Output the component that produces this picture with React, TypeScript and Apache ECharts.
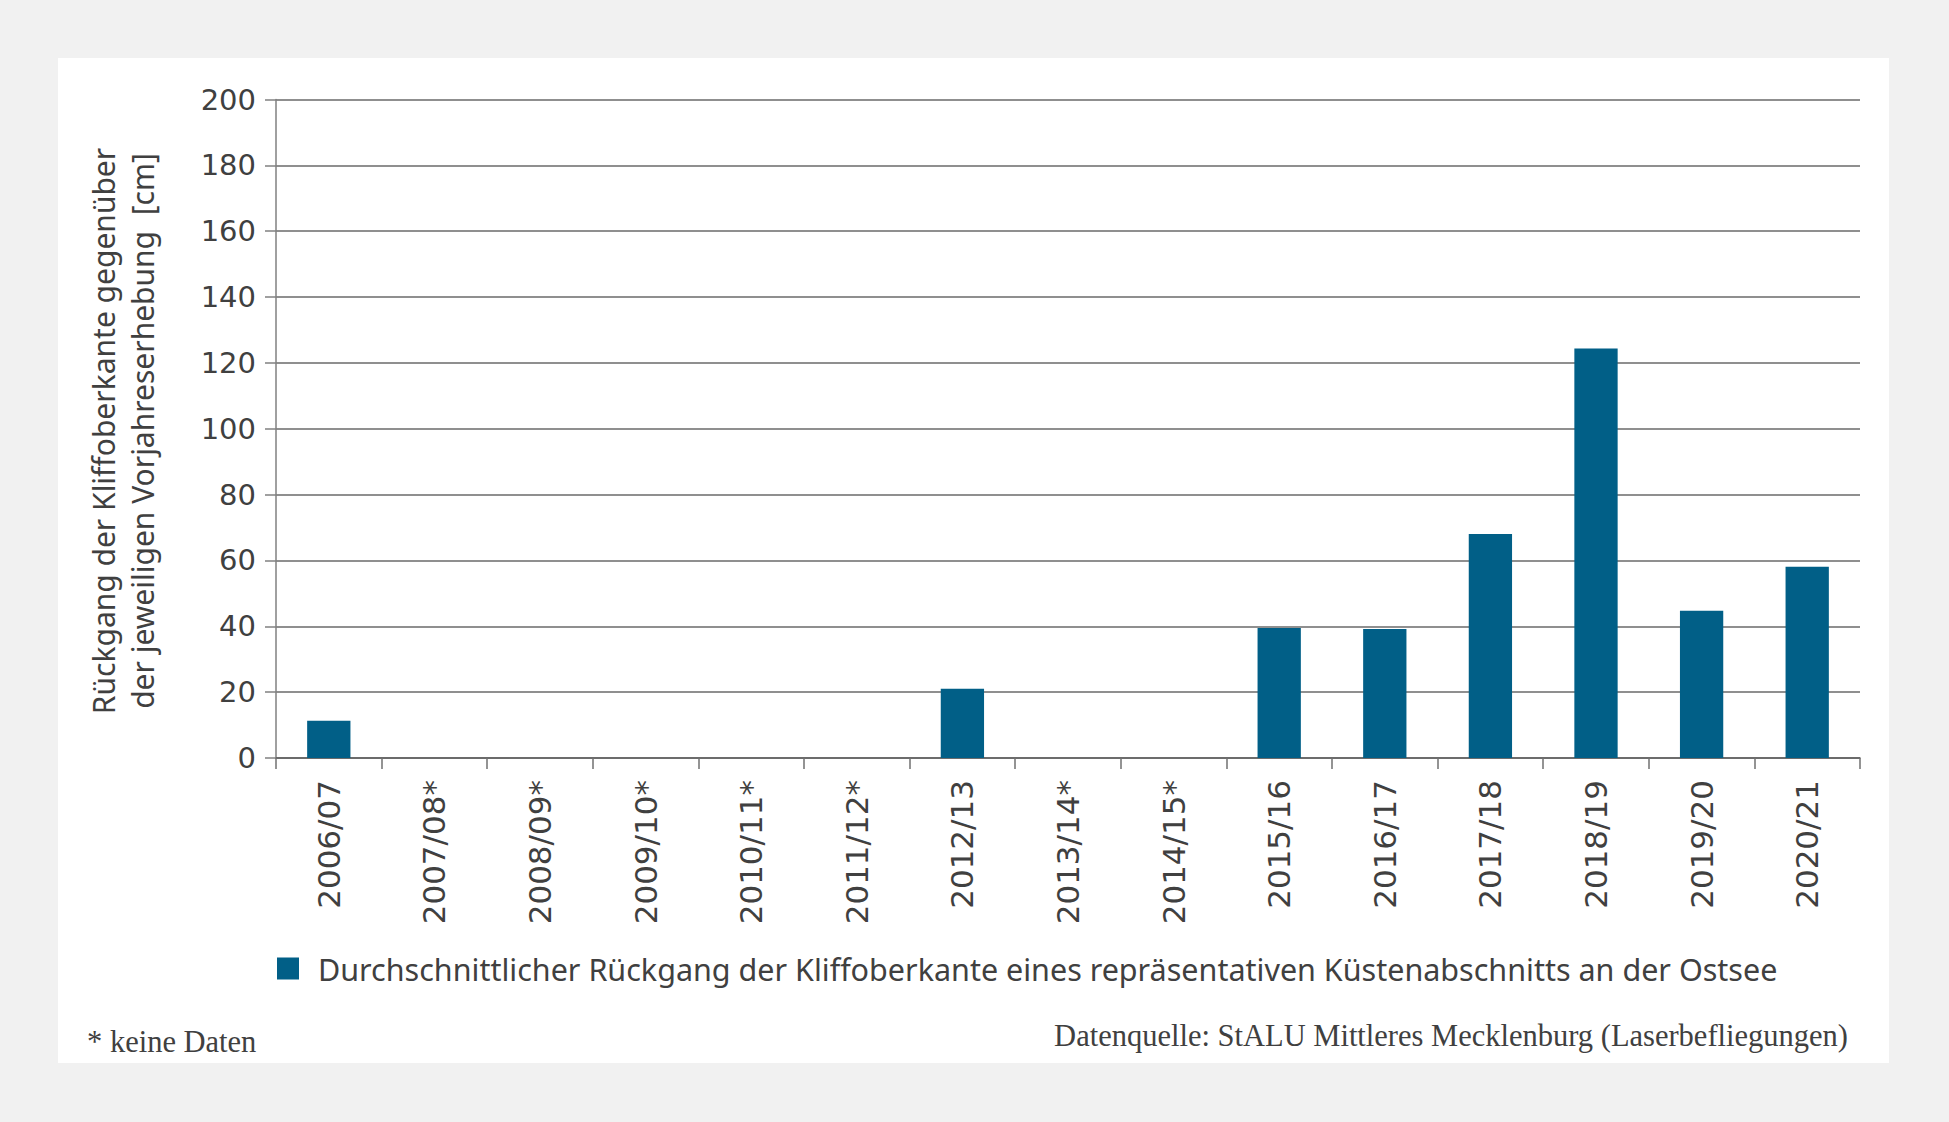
import React, { useEffect, useRef } from "react";
import * as echarts from "echarts";

const categories = [
  "2006/07", "2007/08*", "2008/09*", "2009/10*", "2010/11*", "2011/12*", "2012/13",
  "2013/14*", "2014/15*", "2015/16", "2016/17", "2017/18", "2018/19", "2019/20", "2020/21",
];
const values: (number | null)[] = [
  11.3, null, null, null, null, null, 21, null, null, 39.5, 39.2, 68, 124.4, 44.7, 58.1,
];
const yTicks = { min: 0, max: 200, interval: 20 };
const seriesName =
  "Durchschnittlicher Rückgang der Kliffoberkante eines repräsentativen Küstenabschnitts an der Ostsee";
const yTitle1 = "Rückgang der Kliffoberkante gegenüber";
const yTitle2 = "der jeweiligen Vorjahreserhebung  [cm]";
const footLeft = "* keine Daten";
const footRight = "Datenquelle: StALU Mittleres Mecklenburg (Laserbefliegungen)";

const TXT = "#404040";
const SANS = "'Noto Sans', sans-serif";
const DEJAVU = "'DejaVu Sans', sans-serif";
const SERIF = "'Liberation Serif', serif";

export default function App() {
  const ref = useRef<HTMLDivElement>(null);
  useEffect(() => {
    if (!ref.current) return;
    const chart = echarts.init(ref.current, undefined, { renderer: "svg" });
    chart.setOption({
      animation: false,
      backgroundColor: "transparent",
      grid: { left: 276, top: 99.5, width: 1584, height: 658.5, containLabel: false },
      legend: {
        left: 272,
        top: 948,
        icon: "rect",
        itemWidth: 22,
        itemHeight: 22,
        textStyle: { color: TXT, fontSize: 30.5, fontFamily: SANS, padding: [0, 0, 0, 14] },
        data: [seriesName],
      },
      xAxis: {
        type: "category",
        data: categories,
        boundaryGap: true,
        axisLine: { lineStyle: { color: "#606060", width: 1.5 } },
        axisTick: { show: true, length: 11, lineStyle: { color: "#707070", width: 1.5 } },
        axisLabel: {
          rotate: 90,
          margin: 22,
          color: TXT,
          fontSize: 31,
          fontFamily: DEJAVU,
          interval: 0,
        },
      },
      yAxis: {
        type: "value",
        min: yTicks.min,
        max: yTicks.max,
        interval: yTicks.interval,
        axisLine: { show: true, lineStyle: { color: "#808080", width: 1.5 } },
        axisTick: { show: true, length: 11, lineStyle: { color: "#808080", width: 1.5 } },
        axisLabel: { margin: 20, color: TXT, fontSize: 29, fontFamily: DEJAVU },
        splitLine: { lineStyle: { color: "#6a6a6a", width: 1.5 } },
      },
      series: [
        {
          name: seriesName,
          type: "bar",
          data: values,
          barWidth: "41%",
          itemStyle: { color: "#015f87" },
        },
      ],
      graphic: [
        {
          type: "text",
          x: 103,
          y: 431,
          rotation: Math.PI / 2,
          style: {
            text: yTitle1,
            fill: TXT,
            fontSize: 30,
            fontFamily: SANS,
            align: "center",
            verticalAlign: "middle",
          },
        },
        {
          type: "text",
          x: 142,
          y: 431,
          rotation: Math.PI / 2,
          style: {
            text: yTitle2,
            fill: TXT,
            fontSize: 30,
            fontFamily: SANS,
            align: "center",
            verticalAlign: "middle",
          },
        },
        {
          type: "text",
          x: 87,
          y: 1042,
          style: {
            text: footLeft,
            fill: TXT,
            fontSize: 30.5,
            fontFamily: SERIF,
            align: "left",
            verticalAlign: "middle",
          },
        },
        {
          type: "text",
          x: 1848,
          y: 1036,
          style: {
            text: footRight,
            fill: TXT,
            fontSize: 30.5,
            fontFamily: SERIF,
            align: "right",
            verticalAlign: "middle",
          },
        },
      ],
    });
    return () => chart.dispose();
  }, []);
  return (
    <div style={{ position: "absolute", left: 0, top: 0, width: 1949, height: 1122, background: "#f1f1f1" }}>
      <div style={{ position: "absolute", left: 58, top: 58, width: 1831, height: 1005, background: "#ffffff" }} />
      <div ref={ref} style={{ position: "absolute", left: 0, top: 0, width: 1949, height: 1122 }} />
    </div>
  );
}
